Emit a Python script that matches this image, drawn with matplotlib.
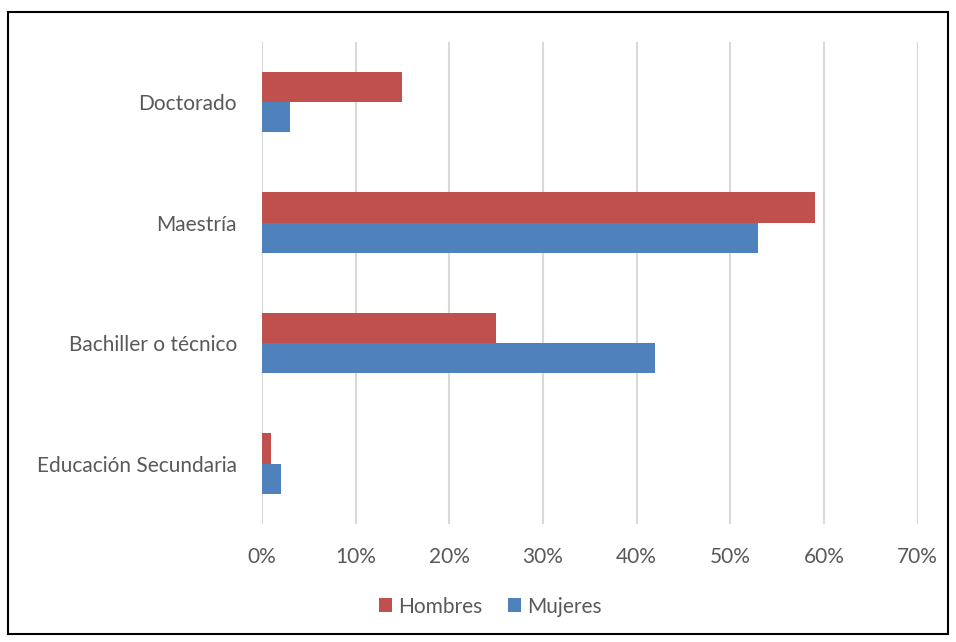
import matplotlib.pyplot as plt
from matplotlib.patches import Rectangle
import numpy as np

plt.rcParams["font.family"] = ["Lato", "DejaVu Sans"]

categories = ["Educación Secundaria", "Bachiller o técnico", "Maestría", "Doctorado"]
hombres = [1, 25, 59, 15]
mujeres = [2, 42, 53, 3]
xticks = [0, 10, 20, 30, 40, 50, 60, 70]

text_color = "#595959"
c_hombres = "#C0504D"
c_mujeres = "#4F81BD"

fig = plt.figure(figsize=(9.56, 6.42), dpi=100)
ax = fig.add_axes([0.274, 0.184, 0.686, 0.751])

y = np.arange(len(categories))
h = 0.25
ax.barh(y + h / 2, hombres, height=h, color=c_hombres, label="Hombres")
ax.barh(y - h / 2, mujeres, height=h, color=c_mujeres, label="Mujeres")

ax.set_xlim(0, 70)
ax.set_ylim(-0.5, 3.5)
ax.set_xticks(xticks)
ax.set_xticklabels([f"{t}%" for t in xticks])
ax.set_yticks(y)
ax.set_yticklabels(categories)
ax.tick_params(length=0, labelsize=15, colors=text_color)
ax.tick_params(axis="x", pad=17)
ax.tick_params(axis="y", pad=18)
ax.grid(axis="x", color="#D9D9D9", linewidth=1.5)
ax.set_axisbelow(True)
for s in ax.spines.values():
    s.set_visible(False)

leg = fig.legend(loc="center", bbox_to_anchor=(0.513, 0.055), ncol=2, frameon=False,
                 fontsize=15, handlelength=0.65, handleheight=0.65, handletextpad=0.3,
                 columnspacing=1.2)
for t in leg.get_texts():
    t.set_color(text_color)

fig.patches.append(Rectangle((8 / 956, 1 - 634 / 642), 940 / 956, 622 / 642,
                             transform=fig.transFigure, fill=False,
                             edgecolor="black", linewidth=1.5))

fig.savefig("out.png", dpi=100)
